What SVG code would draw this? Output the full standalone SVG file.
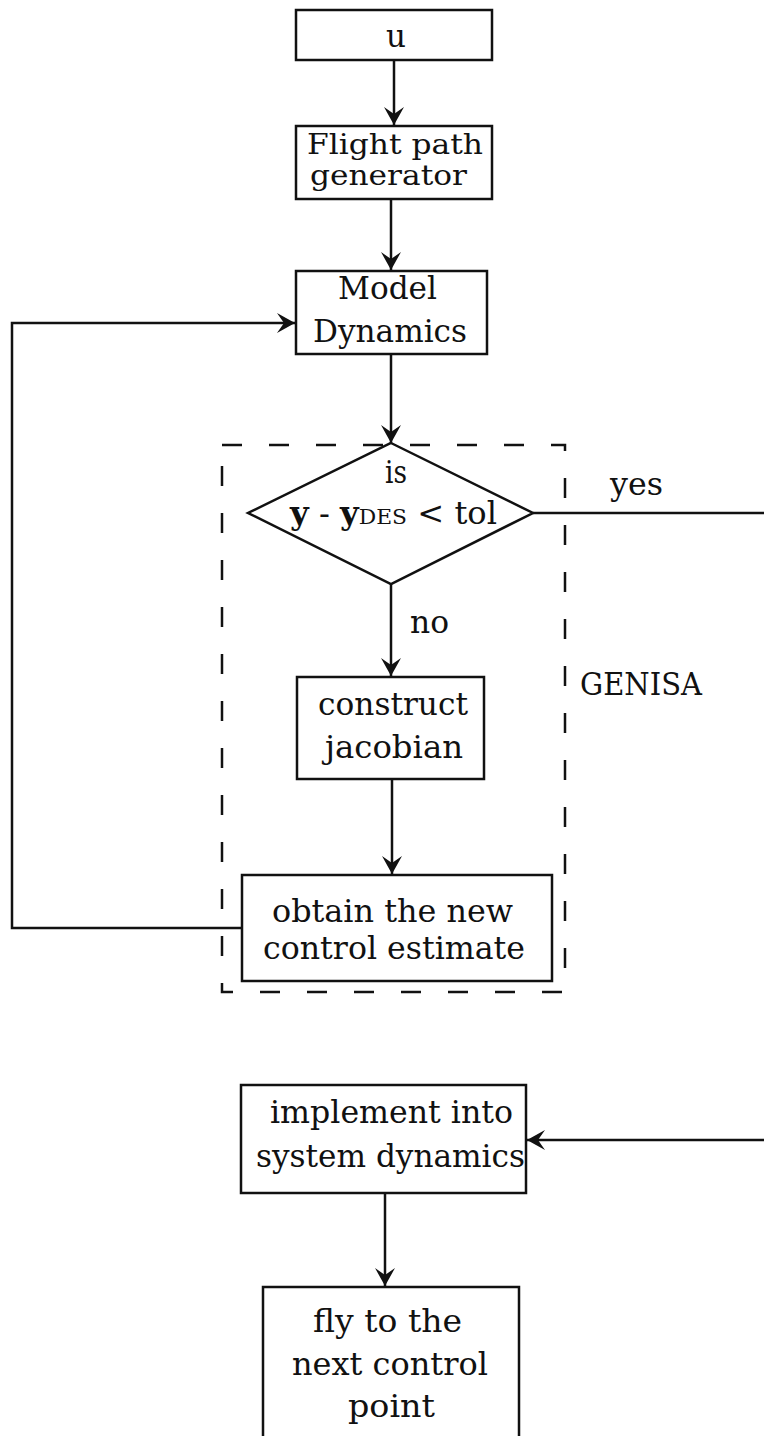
<svg xmlns="http://www.w3.org/2000/svg" width="764" height="1436" viewBox="0 0 764 1436">
<style>
  .box{fill:#fff;stroke:#111;stroke-width:2.5}
  .ln{fill:none;stroke:#111;stroke-width:2.5}
  .dash{fill:none;stroke:#111;stroke-width:2.5;stroke-dasharray:20 27}
  text{font-family:"DejaVu Serif","Liberation Serif",serif;font-size:31px;fill:#111}
  .m{text-anchor:middle}
  .tight{font-size:27px}
</style>
<defs>
  <marker id="ah" viewBox="-20 -11 22 22" refX="0" refY="0" markerWidth="22" markerHeight="22" markerUnits="userSpaceOnUse" orient="auto">
    <path d="M0,0 L-18,-10 L-11,0 L-18,10 Z" fill="#111"/>
  </marker>
</defs>
<rect width="764" height="1436" fill="#fff"/>
<g id="genisa-frame">
  <rect class="dash" x="222" y="445" width="343" height="547"/>
  <text x="580" y="695" textLength="122" lengthAdjust="spacingAndGlyphs">GENISA</text>
</g>
<g id="connectors">
  <line class="ln" x1="394" y1="60" x2="394" y2="125" marker-end="url(#ah)"/>
  <line class="ln" x1="391" y1="199" x2="391" y2="270" marker-end="url(#ah)"/>
  <line class="ln" x1="391" y1="354" x2="391" y2="443" marker-end="url(#ah)"/>
  <line class="ln" x1="391" y1="584" x2="391" y2="676" marker-end="url(#ah)"/>
  <line class="ln" x1="392" y1="779" x2="392" y2="874" marker-end="url(#ah)"/>
  <polyline class="ln" points="242,928 12,928 12,323 295,323" marker-end="url(#ah)"/>
  <line class="ln" x1="533" y1="513" x2="764" y2="513"/>
  <line class="ln" x1="764" y1="1140" x2="527" y2="1140" marker-end="url(#ah)"/>
  <line class="ln" x1="385" y1="1193" x2="385" y2="1286" marker-end="url(#ah)"/>
  <text x="610" y="495" textLength="53" lengthAdjust="spacingAndGlyphs">yes</text>
  <text x="410" y="633" textLength="39" lengthAdjust="spacingAndGlyphs">no</text>
</g>
<g id="node-u">
  <rect class="box" x="296" y="10" width="196" height="50"/>
  <text x="396" y="47" class="m">u</text>
</g>
<g id="node-flight">
  <rect class="box" x="296" y="126" width="196" height="73"/>
  <text class="tight" x="307" y="154" textLength="176" lengthAdjust="spacingAndGlyphs">Flight path</text>
  <text class="tight" x="310" y="185" textLength="157" lengthAdjust="spacingAndGlyphs">generator</text>
</g>
<g id="node-model">
  <rect class="box" x="296" y="271" width="191" height="83"/>
  <text x="338" y="299" textLength="99" lengthAdjust="spacingAndGlyphs">Model</text>
  <text x="313" y="342" textLength="154" lengthAdjust="spacingAndGlyphs">Dynamics</text>
</g>
<g id="node-decision">
  <polygon class="box" points="391,443 533,513 391,584 248,513"/>
  <text x="385" y="483" textLength="22" lengthAdjust="spacingAndGlyphs">is</text>
  <text x="290" y="524" textLength="207" lengthAdjust="spacingAndGlyphs"><tspan font-weight="bold">y</tspan> - <tspan font-weight="bold">y</tspan><tspan font-size="21">DES</tspan> &lt; tol</text>
</g>
<g id="node-construct">
  <rect class="box" x="297" y="677" width="187" height="102"/>
  <text x="318" y="715" textLength="150" lengthAdjust="spacingAndGlyphs">construct</text>
  <text x="325" y="758" textLength="138" lengthAdjust="spacingAndGlyphs">jacobian</text>
</g>
<g id="node-obtain">
  <rect class="box" x="242" y="875" width="310" height="106"/>
  <text x="272" y="922" textLength="241" lengthAdjust="spacingAndGlyphs">obtain the new</text>
  <text x="263" y="959" textLength="262" lengthAdjust="spacingAndGlyphs">control estimate</text>
</g>
<g id="node-implement">
  <rect class="box" x="241" y="1085" width="285" height="108"/>
  <text x="270" y="1123" textLength="243" lengthAdjust="spacingAndGlyphs">implement into</text>
  <text x="256" y="1167" textLength="269" lengthAdjust="spacingAndGlyphs">system dynamics</text>
</g>
<g id="node-fly">
  <rect class="box" x="263" y="1287" width="256" height="170"/>
  <text x="313" y="1332" textLength="149" lengthAdjust="spacingAndGlyphs">fly to the</text>
  <text x="292" y="1375" textLength="196" lengthAdjust="spacingAndGlyphs">next control</text>
  <text x="348" y="1417" textLength="87" lengthAdjust="spacingAndGlyphs">point</text>
</g>
</svg>
